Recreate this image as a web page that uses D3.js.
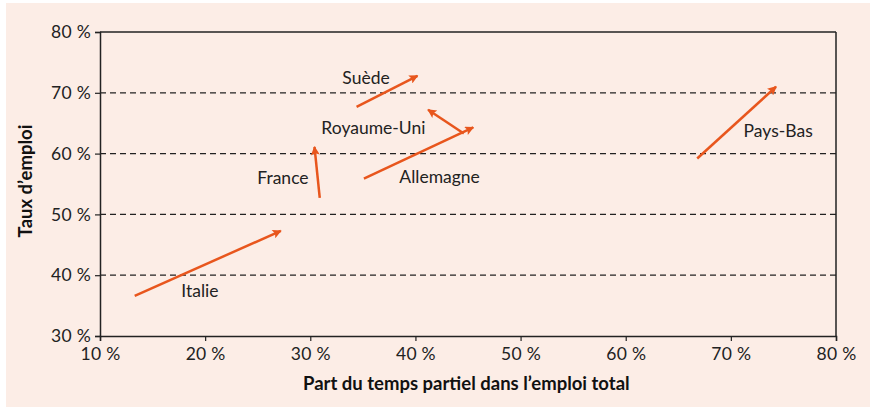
<!DOCTYPE html>
<html>
<head>
<meta charset="utf-8">
<script src="https://cdn.jsdelivr.net/npm/d3@7"></script>
<style>
  body { margin: 0; background: #fff; }
</style>
</head>
<body>
<div id="chart-area"></div>
<script>
// pays, point de départ et d'arrivée (part du temps partiel %, taux d'emploi %)
var countries = ["Italie", "France", "Suède", "Royaume-Uni", "Allemagne", "Pays-Bas"];
var partStart = [13.3, 30.9, 34.4, 44.6, 35.1, 66.8];
var tauxStart = [36.6, 52.7, 67.7, 63.3, 55.9, 59.2];
var partEnd   = [27.2, 30.4, 40.2, 41.2, 45.5, 74.3];
var tauxEnd   = [47.3, 61.1, 72.8, 67.2, 64.3, 71.0];
// position des étiquettes (mêmes unités)
var labelPart = [19.5, 27.4, 35.3, 36.0, 42.3, 74.5];
var labelTaux = [36.4, 55.0, 71.4, 63.2, 55.2, 62.7];

var xTicks = [10, 20, 30, 40, 50, 60, 70, 80];
var yTicks = [30, 40, 50, 60, 70, 80];
var gridValues = [40, 50, 60, 70];

var width = 870, height = 409;
var margin = { left: 100, right: 34, top: 32, bottom: 73 };

var svg = d3.select("#chart-area")
  .append("svg")
  .attr("width", width)
  .attr("height", height);

svg.append("rect")
  .attr("x", 6)
  .attr("y", 3)
  .attr("width", width - 6)
  .attr("height", 404)
  .attr("fill", "#fcede6");

var x = d3.scaleLinear().domain([10, 80]).range([margin.left, width - margin.right]);
var y = d3.scaleLinear().domain([30, 80]).range([height - margin.bottom, margin.top]);

var orange = "#e8561d";

svg.append("defs").append("marker")
  .attr("id", "head")
  .attr("viewBox", "0 0 10 10")
  .attr("refX", 9)
  .attr("refY", 5)
  .attr("markerWidth", 11)
  .attr("markerHeight", 9)
  .attr("markerUnits", "userSpaceOnUse")
  .attr("orient", "auto")
  .append("path")
  .attr("d", "M0,0 L10,5 L0,10 L2,5 Z")
  .attr("fill", orange);

// lignes pointillées
svg.selectAll(".grid")
  .data(gridValues)
  .enter().append("line")
  .attr("x1", x(10))
  .attr("x2", x(80))
  .attr("y1", function(d) { return y(d); })
  .attr("y2", function(d) { return y(d); })
  .attr("stroke", "#222")
  .attr("stroke-width", 1.2)
  .attr("stroke-dasharray", "6,4");

// cadre
svg.append("line")
  .attr("x1", x(10)).attr("x2", x(80))
  .attr("y1", y(80)).attr("y2", y(80))
  .attr("stroke", "#222").attr("stroke-width", 1.5);
svg.append("line")
  .attr("x1", x(80)).attr("x2", x(80))
  .attr("y1", y(80)).attr("y2", y(30))
  .attr("stroke", "#222").attr("stroke-width", 1.5);

var fmt = function(d) { return d + " %"; };

var xAxis = svg.append("g")
  .attr("transform", "translate(0," + y(30) + ")")
  .call(d3.axisBottom(x).tickValues(xTicks).tickFormat(fmt).tickSize(5).tickPadding(4));

var yAxis = svg.append("g")
  .attr("transform", "translate(" + x(10) + ",0)")
  .call(d3.axisLeft(y).tickValues(yTicks).tickFormat(fmt).tickSize(5).tickPadding(4));

[xAxis, yAxis].forEach(function(g) {
  g.select(".domain").attr("stroke", "#222").attr("stroke-width", 1.5);
  g.selectAll(".tick line").attr("stroke", "#222").attr("stroke-width", 1.2);
  g.selectAll(".tick text")
    .attr("fill", "#222")
    .attr("font-family", "Lato, 'Open Sans', sans-serif")
    .attr("font-size", "17.5px")
    .attr("letter-spacing", "0.3px");
});
xAxis.selectAll(".tick text").attr("dy", "0.85em");

// flèches
svg.selectAll(".arrow")
  .data(countries)
  .enter().append("line")
  .attr("x1", function(d, i) { return x(partStart[i]); })
  .attr("y1", function(d, i) { return y(tauxStart[i]); })
  .attr("x2", function(d, i) { return x(partEnd[i]); })
  .attr("y2", function(d, i) { return y(tauxEnd[i]); })
  .attr("stroke", orange)
  .attr("stroke-width", 2.5)
  .attr("marker-end", "url(#head)");

svg.selectAll(".label")
  .data(countries)
  .enter().append("text")
  .attr("x", function(d, i) { return x(labelPart[i]); })
  .attr("y", function(d, i) { return y(labelTaux[i]); })
  .attr("text-anchor", "middle")
  .attr("font-family", "Lato, 'Open Sans', sans-serif")
  .attr("font-size", "17.5px")
  .attr("fill", "#222")
  .text(function(d) { return d; });

// titres des axes
svg.append("text")
  .attr("x", 303)
  .attr("y", 390)
  .attr("font-family", "Lato, sans-serif")
  .attr("font-weight", "bold")
  .attr("font-size", "18.5px")
  .attr("fill", "#111")
  .text("Part du temps partiel dans l\u2019emploi total");

svg.append("text")
  .attr("transform", "translate(32," + 181 + ") rotate(-90)")
  .attr("text-anchor", "middle")
  .attr("font-family", "Lato, sans-serif")
  .attr("font-weight", "bold")
  .attr("font-size", "18.5px")
  .attr("fill", "#111")
  .text("Taux d\u2019emploi");
</script>
</body>
</html>
